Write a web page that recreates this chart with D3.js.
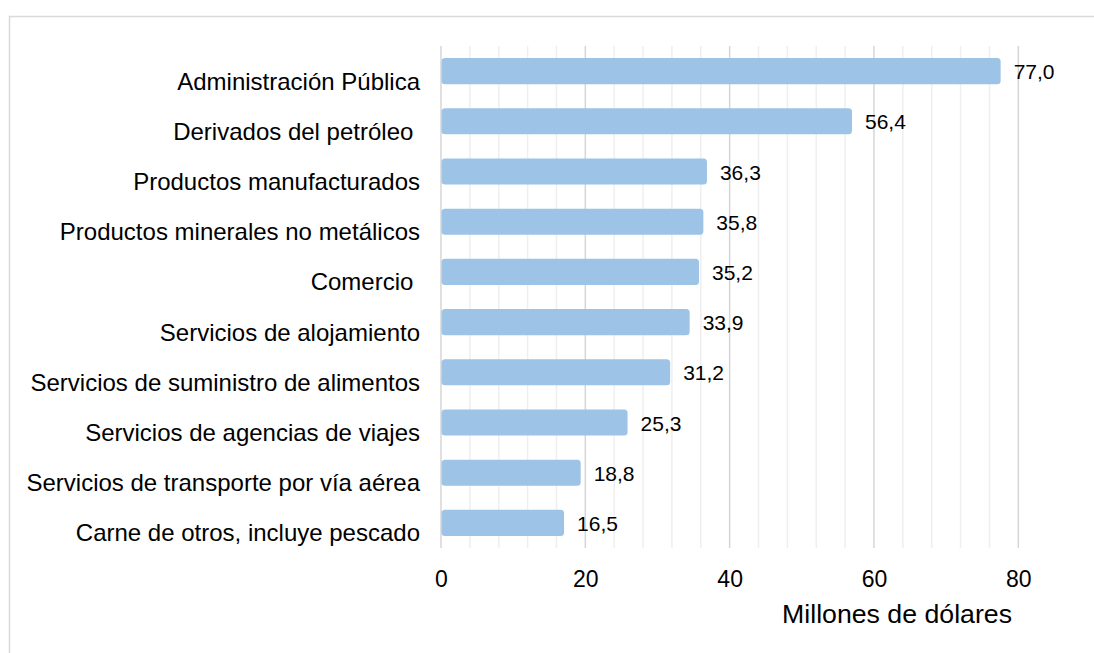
<!DOCTYPE html>
<html><head><meta charset="utf-8">
<script src="https://cdn.jsdelivr.net/npm/d3@7"></script>
<style>
html,body{margin:0;padding:0;background:#fff;}
svg{display:block;font-family:"Liberation Sans",Arial,sans-serif;}
</style></head>
<body>
<svg id="chart" width="1094" height="653"></svg>
<script>
const categories = [
  "Administración Pública",
  "Derivados del petróleo ",
  "Productos manufacturados",
  "Productos minerales no metálicos",
  "Comercio ",
  "Servicios de alojamiento",
  "Servicios de suministro de alimentos",
  "Servicios de agencias de viajes",
  "Servicios de transporte por vía aérea",
  "Carne de otros, incluye pescado"
];
const values = [77.0, 56.4, 36.3, 35.8, 35.2, 33.9, 31.2, 25.3, 18.8, 16.5];
const valueLabels = ["77,0","56,4","36,3","35,8","35,2","33,9","31,2","25,3","18,8","16,5"];
const majorTicks = [0, 20, 40, 60, 80];
const minorTicks = d3.range(0, 81, 4);
const axisTitle = "Millones de dólares";

const svg = d3.select("#chart");
const plotLeft = 441, plotRight = 1018.3, plotTop = 46, plotBottom = 548;

const x = d3.scaleLinear().domain([0, 80]).range([plotLeft, plotRight]);
const y = d3.scaleBand().domain(categories).range([plotTop, plotBottom]).paddingInner(0.48).paddingOuter(0.24);

// outer border
svg.append("rect").attr("x", 9.5).attr("y", 16.5).attr("width", 1200).attr("height", 800)
  .attr("fill", "none").attr("stroke", "#d9d9d9").attr("stroke-width", 1.5);

// minor gridlines
svg.append("g").selectAll("line").data(minorTicks.filter(d => d % 20 !== 0)).join("line")
  .attr("x1", d => x(d)).attr("x2", d => x(d)).attr("y1", plotTop).attr("y2", plotBottom)
  .attr("stroke", "#efefef").attr("stroke-width", 1.5);
// major gridlines
svg.append("g").selectAll("line").data(majorTicks).join("line")
  .attr("x1", d => x(d)).attr("x2", d => x(d)).attr("y1", plotTop).attr("y2", plotBottom)
  .attr("stroke", "#d6d6d6").attr("stroke-width", 1.5);

// bars
svg.append("g").selectAll("rect").data(values).join("rect")
  .attr("x", x(0) + 0.5)
  .attr("y", (d, i) => y(categories[i]))
  .attr("width", d => x(d) - x(0) + 3.5)
  .attr("height", y.bandwidth())
  .attr("rx", 3.5)
  .attr("fill", "#9dc3e6");

// value labels
svg.append("g").selectAll("text").data(values).join("text")
  .attr("x", d => x(d) + 17)
  .attr("y", (d, i) => y(categories[i]) + y.bandwidth() / 2 + 8)
  .attr("font-size", "21px").attr("fill", "#000")
  .text((d, i) => valueLabels[i]);

// category labels
svg.append("g").selectAll("text").data(categories).join("text")
  .attr("x", 420)
  .attr("y", d => y(d) + y.bandwidth() / 2 + 18.5)
  .attr("text-anchor", "end")
  .attr("font-size", "24px").attr("fill", "#000")
  .style("white-space", "pre")
  .text(d => d);

// x axis tick labels
const xAxis = d3.axisBottom(x).tickValues(majorTicks).tickSize(0).tickPadding(0).tickFormat(d3.format("d"));
const gx = svg.append("g").attr("transform", `translate(0,${plotBottom})`).call(xAxis);
gx.select(".domain").remove();
gx.selectAll("text").attr("font-size", "23px").attr("font-family", "Liberation Sans, Arial, sans-serif")
  .attr("fill", "#000").attr("dy", null).attr("y", 38.5);

// axis title
svg.append("text").attr("x", 1012).attr("y", 623)
  .attr("text-anchor", "end").attr("font-size", "26.7px").attr("fill", "#000")
  .text(axisTitle);
</script>
</body></html>
